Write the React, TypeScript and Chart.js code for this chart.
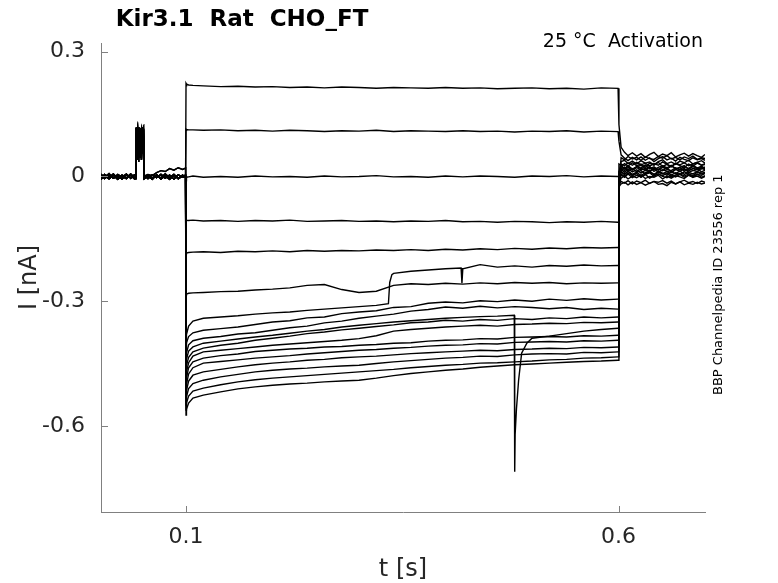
import { useEffect, useRef } from "react"
import { Chart, registerables } from "chart.js"

Chart.register(...registerables)

// eixos
const xTicks = [0.1, 0.6]
const yTicks = [0.3, 0, -0.3, -0.6]

// tempos (s) partilhados pelas varreduras
const preT = [0.0017, 0.006, 0.011, 0.016, 0.021, 0.026, 0.031, 0.036, 0.0405, 0.0422, 0.0425, 0.044, 0.0455, 0.047, 0.0485, 0.05, 0.0508, 0.0515, 0.056, 0.061, 0.066, 0.071, 0.076, 0.081, 0.086, 0.091, 0.096, 0.0995]
const stepT = [0.1, 0.1005, 0.103, 0.108, 0.12, 0.14, 0.16, 0.18, 0.2, 0.22, 0.24, 0.26, 0.28, 0.3, 0.32, 0.34, 0.36, 0.38, 0.4, 0.42, 0.44, 0.46, 0.48, 0.5, 0.52, 0.54, 0.56, 0.58, 0.5995]
const jumpT = [0.1, 0.1005, 0.103, 0.108, 0.12, 0.14, 0.16, 0.18, 0.2, 0.22, 0.24, 0.26, 0.28, 0.3, 0.32, 0.334, 0.3355, 0.338, 0.34, 0.36, 0.38, 0.4, 0.418, 0.419, 0.42, 0.44, 0.46, 0.48, 0.5, 0.52, 0.54, 0.56, 0.58, 0.5995]
const spikeT = [0.1, 0.1005, 0.103, 0.108, 0.12, 0.14, 0.16, 0.18, 0.2, 0.22, 0.24, 0.26, 0.28, 0.3, 0.32, 0.34, 0.36, 0.38, 0.4, 0.42, 0.44, 0.46, 0.4795, 0.48, 0.4805, 0.482, 0.4845, 0.488, 0.494, 0.5, 0.52, 0.54, 0.56, 0.58, 0.5995]
const postT = [0.6005, 0.603, 0.607, 0.611, 0.616, 0.621, 0.626, 0.631, 0.636, 0.641, 0.646, 0.651, 0.656, 0.661, 0.666, 0.671, 0.676, 0.681, 0.686, 0.691, 0.696, 0.7]

// corrente antes do degrau (nA)
const preA = [0.003, -0.005, 0.004, -0.004, 0.002, -0.006, 0.005, -0.003, 0.004, 0.002, 0.117, 0.06, 0.112, 0.045, 0.108, 0.09, 0.115, 0.003, -0.005, 0.004, -0.003, 0.005, -0.004, 0.003, -0.006, 0.004, -0.002, 0.001]
const preB = [-0.004, 0.005, -0.003, 0.006, -0.005, 0.003, -0.004, 0.006, -0.003, -0.002, 0.1, 0.118, 0.05, 0.116, 0.07, 0.118, 0.098, -0.003, 0.004, -0.005, 0.003, -0.004, 0.006, -0.003, 0.005, -0.005, 0.003, -0.002]
const preC = [0.006, -0.002, 0.007, -0.004, 0.005, -0.001, 0.006, -0.005, 0.002, 0.004, 0.118, 0.08, 0.035, 0.105, 0.117, 0.055, 0.112, 0.001, 0.005, 0.002, 0.009, 0.014, 0.012, 0.019, 0.015, 0.021, 0.017, 0.02]
const preD = [-0.007, 0.002, -0.006, 0.003, -0.007, 0.001, -0.005, 0.004, -0.006, -0.005, 0.105, 0.04, 0.118, 0.085, 0.04, 0.112, 0.117, -0.006, 0.001, -0.007, 0.004, -0.006, 0.002, -0.007, 0.003, -0.005, 0.001, 0.003]

// corrente durante o degrau (nA)
const i01 = [0.224, 0.222, 0.22, 0.219, 0.218, 0.216, 0.217, 0.215, 0.216, 0.214, 0.215, 0.213, 0.215, 0.214, 0.212, 0.214, 0.213, 0.212, 0.214, 0.212, 0.213, 0.211, 0.212, 0.213, 0.211, 0.212, 0.21, 0.213, 0.212]
const i02 = [0.114, 0.113, 0.112, 0.112, 0.111, 0.112, 0.11, 0.111, 0.109, 0.111, 0.11, 0.108, 0.11, 0.109, 0.111, 0.108, 0.11, 0.109, 0.108, 0.11, 0.108, 0.109, 0.107, 0.109, 0.108, 0.11, 0.107, 0.109, 0.108]
const i03 = [0.001, -0.002, -0.001, 0.001, -0.002, 0.0, -0.002, 0.001, -0.001, 0.0, -0.002, 0.001, -0.001, 0.0, 0.002, -0.001, 0.0, -0.002, 0.001, -0.001, 0.001, 0.0, -0.002, 0.001, 0.0, 0.002, -0.001, 0.001, 0.0]
const i04 = [-0.104, -0.105, -0.106, -0.105, -0.107, -0.106, -0.108, -0.106, -0.107, -0.105, -0.108, -0.107, -0.106, -0.108, -0.107, -0.109, -0.107, -0.108, -0.106, -0.109, -0.108, -0.11, -0.108, -0.109, -0.111, -0.109, -0.11, -0.108, -0.11]
const i05 = [-0.186, -0.184, -0.183, -0.182, -0.181, -0.183, -0.18, -0.181, -0.179, -0.181, -0.178, -0.18, -0.178, -0.179, -0.177, -0.178, -0.176, -0.178, -0.175, -0.177, -0.174, -0.176, -0.173, -0.175, -0.172, -0.174, -0.171, -0.172, -0.171]
const i06 = [-0.285, -0.283, -0.281, -0.28, -0.279, -0.277, -0.276, -0.273, -0.271, -0.268, -0.262, -0.26, -0.272, -0.279, -0.276, -0.262, -0.258, -0.26, -0.257, -0.259, -0.256, -0.258, -0.255, -0.257, -0.255, -0.258, -0.256, -0.257, -0.256]
const i07 = [-0.4, -0.38, -0.36, -0.348, -0.341, -0.338, -0.335, -0.331, -0.328, -0.326, -0.322, -0.319, -0.316, -0.313, -0.31, -0.306, -0.255, -0.236, -0.233, -0.228, -0.225, -0.222, -0.22, -0.257, -0.222, -0.212, -0.218, -0.215, -0.218, -0.214, -0.216, -0.213, -0.215, -0.214]
const i08 = [-0.418, -0.4, -0.385, -0.376, -0.37, -0.366, -0.362, -0.356, -0.35, -0.347, -0.34, -0.338, -0.33, -0.326, -0.323, -0.315, -0.313, -0.305, -0.302, -0.304, -0.299, -0.301, -0.297, -0.3, -0.295, -0.298, -0.294, -0.297, -0.295]
const i09 = [-0.437, -0.425, -0.405, -0.395, -0.389, -0.385, -0.379, -0.376, -0.37, -0.364, -0.36, -0.352, -0.348, -0.341, -0.336, -0.331, -0.324, -0.32, -0.314, -0.317, -0.312, -0.316, -0.313, -0.315, -0.318, -0.315, -0.32, -0.317, -0.319]
const i10 = [-0.454, -0.44, -0.42, -0.41, -0.401, -0.396, -0.391, -0.386, -0.382, -0.377, -0.372, -0.368, -0.362, -0.358, -0.354, -0.35, -0.347, -0.344, -0.341, -0.339, -0.337, -0.336, -0.334, -0.71, -0.62, -0.56, -0.49, -0.425, -0.401, -0.389, -0.384, -0.378, -0.372, -0.368, -0.365]
const i11 = [-0.47, -0.455, -0.435, -0.422, -0.413, -0.406, -0.401, -0.394, -0.389, -0.384, -0.378, -0.374, -0.369, -0.365, -0.361, -0.357, -0.352, -0.35, -0.346, -0.348, -0.344, -0.346, -0.342, -0.344, -0.34, -0.342, -0.338, -0.34, -0.338]
const i12 = [-0.485, -0.47, -0.448, -0.432, -0.422, -0.418, -0.414, -0.41, -0.406, -0.403, -0.4, -0.397, -0.394, -0.39, -0.383, -0.372, -0.368, -0.365, -0.362, -0.36, -0.358, -0.36, -0.356, -0.355, -0.353, -0.354, -0.351, -0.352, -0.35]
const i13 = [-0.502, -0.485, -0.46, -0.446, -0.437, -0.431, -0.427, -0.421, -0.418, -0.415, -0.413, -0.41, -0.409, -0.406, -0.404, -0.401, -0.4, -0.396, -0.394, -0.393, -0.39, -0.391, -0.387, -0.386, -0.385, -0.386, -0.383, -0.384, -0.382]
const i14 = [-0.518, -0.5, -0.475, -0.46, -0.449, -0.445, -0.441, -0.437, -0.434, -0.431, -0.427, -0.424, -0.421, -0.418, -0.416, -0.413, -0.411, -0.408, -0.406, -0.405, -0.402, -0.403, -0.399, -0.398, -0.397, -0.398, -0.395, -0.396, -0.394]
const i15 = [-0.533, -0.515, -0.492, -0.478, -0.47, -0.464, -0.458, -0.453, -0.449, -0.446, -0.442, -0.44, -0.436, -0.434, -0.432, -0.429, -0.426, -0.424, -0.422, -0.42, -0.418, -0.419, -0.416, -0.415, -0.413, -0.414, -0.411, -0.412, -0.41]
const i16 = [-0.55, -0.53, -0.51, -0.498, -0.49, -0.482, -0.476, -0.47, -0.466, -0.463, -0.461, -0.458, -0.456, -0.454, -0.45, -0.446, -0.443, -0.44, -0.437, -0.435, -0.432, -0.433, -0.429, -0.427, -0.426, -0.427, -0.423, -0.424, -0.422]
const i17 = [-0.562, -0.545, -0.528, -0.516, -0.509, -0.501, -0.494, -0.489, -0.485, -0.482, -0.479, -0.476, -0.473, -0.47, -0.467, -0.464, -0.46, -0.457, -0.454, -0.452, -0.449, -0.448, -0.446, -0.444, -0.441, -0.44, -0.437, -0.436, -0.434]
const i18 = [-0.574, -0.56, -0.545, -0.533, -0.526, -0.518, -0.511, -0.506, -0.502, -0.499, -0.497, -0.494, -0.492, -0.49, -0.485, -0.479, -0.474, -0.47, -0.466, -0.463, -0.459, -0.456, -0.453, -0.451, -0.449, -0.447, -0.445, -0.444, -0.442]

// corrente depois do degrau (nA)
const p01 = [0.125, 0.07, 0.058, 0.05, 0.057, 0.049, 0.055, 0.046, 0.053, 0.058, 0.048, 0.054, 0.05, 0.057, 0.047, 0.052, 0.056, 0.049, 0.055, 0.05, 0.046, 0.053]
const p02 = [0.085, 0.052, 0.044, 0.038, 0.046, 0.04, 0.047, 0.039, 0.045, 0.036, 0.043, 0.048, 0.04, 0.044, 0.037, 0.046, 0.041, 0.038, 0.045, 0.04, 0.043, 0.039]
const p03 = [0.03, 0.027, 0.019, 0.026, 0.017, 0.024, 0.02, 0.028, 0.018, 0.023, 0.016, 0.025, 0.021, 0.027, 0.018, 0.022, 0.026, 0.017, 0.024, 0.02, 0.025, 0.019]
const p04 = [0.005, 0.024, 0.031, 0.025, 0.033, 0.026, 0.03, 0.022, 0.032, 0.027, 0.034, 0.024, 0.029, 0.023, 0.031, 0.026, 0.021, 0.03, 0.025, 0.032, 0.027, 0.029]
const p05 = [0.012, 0.015, 0.022, 0.013, 0.019, 0.011, 0.02, 0.015, 0.023, 0.012, 0.018, 0.014, 0.021, 0.01, 0.017, 0.022, 0.013, 0.019, 0.015, 0.012, 0.02, 0.016]
const p06 = [0.002, 0.011, 0.004, 0.012, 0.005, 0.01, 0.002, 0.009, 0.013, 0.004, 0.01, 0.006, 0.012, 0.003, 0.009, 0.005, 0.011, 0.007, 0.002, 0.01, 0.006, 0.008]
const p07 = [0.008, 0.036, 0.039, 0.031, 0.037, 0.03, 0.038, 0.032, 0.035, 0.028, 0.036, 0.04, 0.031, 0.035, 0.029, 0.037, 0.033, 0.039, 0.03, 0.034, 0.038, 0.032]
const p08 = [-0.01, 0.006, -0.001, 0.008, 0.002, 0.007, -0.002, 0.005, 0.009, 0.0, 0.006, 0.002, 0.008, -0.001, 0.004, 0.007, 0.001, 0.006, -0.002, 0.005, 0.003, 0.007]
const p09 = [-0.005, 0.017, 0.01, 0.018, 0.011, 0.016, 0.008, 0.015, 0.012, 0.019, 0.01, 0.016, 0.013, 0.009, 0.017, 0.012, 0.018, 0.01, 0.014, 0.019, 0.011, 0.015]
const p10 = [-0.015, 0.025, 0.018, 0.026, 0.017, 0.023, 0.027, 0.019, 0.024, 0.016, 0.022, 0.026, 0.018, 0.025, 0.02, 0.017, 0.024, 0.019, 0.027, 0.021, 0.018, 0.023]
const p11 = [-0.02, -0.004, 0.002, -0.006, 0.001, -0.003, 0.004, -0.005, 0.0, -0.002, 0.003, -0.006, 0.001, -0.004, 0.002, -0.001, -0.005, 0.003, -0.002, 0.001, -0.004, 0.0]
const p12 = [-0.015, 0.012, 0.006, 0.013, 0.004, 0.01, 0.014, 0.006, 0.011, 0.005, 0.012, 0.008, 0.003, 0.011, 0.007, 0.013, 0.005, 0.01, 0.006, 0.012, 0.008, 0.01]
const p13 = [-0.018, 0.03, 0.026, 0.033, 0.027, 0.034, 0.028, 0.032, 0.025, 0.031, 0.027, 0.035, 0.029, 0.024, 0.032, 0.028, 0.033, 0.026, 0.03, 0.034, 0.027, 0.031]
const p14 = [-0.02, 0.02, 0.014, 0.022, 0.015, 0.021, 0.016, 0.019, 0.013, 0.02, 0.015, 0.022, 0.017, 0.014, 0.021, 0.016, 0.019, 0.013, 0.02, 0.017, 0.022, 0.018]
const p15 = [-0.022, -0.012, -0.016, -0.01, -0.018, -0.011, -0.015, -0.009, -0.017, -0.012, -0.014, -0.01, -0.016, -0.011, -0.018, -0.013, -0.009, -0.015, -0.012, -0.017, -0.011, -0.014]
const p16 = [-0.022, 0.004, -0.002, 0.006, -0.003, 0.003, -0.001, 0.005, -0.004, 0.002, 0.006, 0.0, -0.003, 0.004, -0.001, 0.005, -0.002, 0.003, 0.0, 0.006, -0.002, 0.002]
const p17 = [-0.024, 0.045, 0.04, 0.048, 0.042, 0.046, 0.039, 0.047, 0.043, 0.041, 0.048, 0.044, 0.05, 0.042, 0.046, 0.04, 0.047, 0.043, 0.049, 0.041, 0.045, 0.043]
const p18 = [-0.025, -0.018, -0.014, -0.02, -0.013, -0.019, -0.015, -0.021, -0.016, -0.012, -0.019, -0.017, -0.022, -0.014, -0.018, -0.013, -0.02, -0.016, -0.019, -0.014, -0.018, -0.016]

const traces = [
  { pre: preA, t: stepT, v: i01, post: p01 },
  { pre: preB, t: stepT, v: i02, post: p02 },
  { pre: preD, t: stepT, v: i03, post: p03 },
  { pre: preC, t: stepT, v: i04, post: p04 },
  { pre: preB, t: stepT, v: i05, post: p05 },
  { pre: preA, t: stepT, v: i06, post: p06 },
  { pre: preD, t: jumpT, v: i07, post: p07 },
  { pre: preA, t: stepT, v: i08, post: p08 },
  { pre: preC, t: stepT, v: i09, post: p09 },
  { pre: preB, t: spikeT, v: i10, post: p10 },
  { pre: preD, t: stepT, v: i11, post: p11 },
  { pre: preA, t: stepT, v: i12, post: p12 },
  { pre: preB, t: stepT, v: i13, post: p13 },
  { pre: preD, t: stepT, v: i14, post: p14 },
  { pre: preA, t: stepT, v: i15, post: p15 },
  { pre: preB, t: stepT, v: i16, post: p16 },
  { pre: preD, t: stepT, v: i17, post: p17 },
  { pre: preA, t: stepT, v: i18, post: p18 },
]

const FONT = "DejaVu Sans"
const AXIS = "#808080"
const TEXT = "#262626"

const overlay = {
  id: "overlay",
  afterDraw(chart: Chart) {
    const { ctx, chartArea: area } = chart
    const xs = chart.scales.x
    const ys = chart.scales.y
    ctx.save()
    // marcas dos ticks para dentro
    ctx.strokeStyle = AXIS
    ctx.lineWidth = 1
    ctx.beginPath()
    xTicks.forEach((v) => {
      const px = Math.round(xs.getPixelForValue(v)) + 0.5
      ctx.moveTo(px, area.bottom)
      ctx.lineTo(px, area.bottom - 6)
    })
    yTicks.forEach((v) => {
      const py = Math.round(ys.getPixelForValue(v)) + 0.5
      ctx.moveTo(area.left, py)
      ctx.lineTo(area.left + 7, py)
    })
    ctx.stroke()

    ctx.fillStyle = "#000"
    ctx.font = `bold 23px ${FONT}`
    ctx.textAlign = "center"
    ctx.textBaseline = "alphabetic"
    ctx.fillText("Kir3.1  Rat  CHO_FT", 242, 26)

    ctx.font = `19px ${FONT}`
    ctx.textAlign = "right"
    ctx.fillText("25 °C  Activation", 703, 47)

    ctx.fillStyle = TEXT
    ctx.font = `24px ${FONT}`
    ctx.textAlign = "center"
    ctx.fillText("t [s]", (area.left + area.right) / 2, 576)

    ctx.save()
    ctx.translate(30, (area.top + area.bottom) / 2)
    ctx.rotate(-Math.PI / 2)
    ctx.textBaseline = "middle"
    ctx.fillText("I [nA]", 0, 0)
    ctx.restore()

    ctx.save()
    ctx.fillStyle = "#000"
    ctx.translate(722, 395)
    ctx.rotate(-Math.PI / 2)
    ctx.font = `13px ${FONT}`
    ctx.textAlign = "left"
    ctx.textBaseline = "alphabetic"
    ctx.fillText("BBP Channelpedia ID 23556 rep 1", 0, 0)
    ctx.restore()

    ctx.restore()
  },
}

export default function App() {
  const chartRef = useRef<HTMLCanvasElement>(null)

  useEffect(() => {
    if (!chartRef.current) return

    const datasets = traces.map((tr) => ({
      data: [
        ...tr.pre.map((y, k) => ({ x: preT[k], y })),
        ...tr.v.map((y, k) => ({ x: tr.t[k], y })),
        ...tr.post.map((y, k) => ({ x: postT[k], y })),
      ],
      borderColor: "#000",
      borderWidth: 1.4,
      pointRadius: 0,
      fill: false,
      tension: 0,
    }))

    const chart = new Chart(chartRef.current, {
      type: "line",
      data: { datasets },
      options: {
        responsive: false,
        animation: false,
        layout: { padding: { top: 43, right: 73, bottom: 0, left: 0 } },
        plugins: {
          legend: { display: false },
          tooltip: { enabled: false },
        },
        scales: {
          x: {
            type: "linear",
            min: 0.0017,
            max: 0.7,
            afterBuildTicks: (scale: any) => {
              scale.ticks = xTicks.map((value) => ({ value }))
            },
            afterFit: (scale: any) => {
              scale.height = 71
            },
            ticks: {
              autoSkip: false,
              maxRotation: 0,
              padding: 12,
              color: TEXT,
              font: { family: FONT, size: 22 },
              callback: (v: any) => String(v),
            },
            grid: { display: false, drawTicks: false },
            border: { display: true, color: AXIS, width: 1 },
          },
          y: {
            type: "linear",
            min: -0.807,
            max: 0.321,
            afterBuildTicks: (scale: any) => {
              scale.ticks = yTicks.map((value) => ({ value }))
            },
            afterFit: (scale: any) => {
              scale.width = 101
            },
            ticks: {
              autoSkip: false,
              padding: 16,
              color: TEXT,
              font: { family: FONT, size: 22 },
              callback: (v: any) => String(v),
            },
            grid: { display: false, drawTicks: false },
            border: { display: true, color: AXIS, width: 1 },
          },
        },
      },
      plugins: [overlay],
    })

    return () => chart.destroy()
  }, [])

  return (
    <div style={{ position: "fixed", left: 0, top: 0, width: 778, height: 583, background: "#fff" }}>
      <canvas ref={chartRef} width={778} height={583} />
    </div>
  )
}
